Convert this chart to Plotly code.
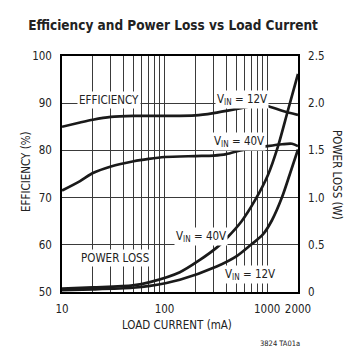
import plotly.graph_objects as go

# ---- data ----
eff12_current = [10, 15, 20, 30, 50, 100, 200, 300, 540, 800, 1000, 1400, 2000]
eff12_values = [85.0, 85.9, 86.5, 87.1, 87.3, 87.3, 87.4, 87.9, 88.9, 89.6, 89.4, 88.4, 87.5]

eff40_current = [10, 15, 20, 30, 50, 70, 100, 200, 300, 400, 550, 700, 1000, 1400, 1750, 2000]
eff40_values = [71.5, 73.5, 75.2, 76.6, 77.7, 78.2, 78.6, 78.8, 78.9, 79.2, 80.0, 80.4, 80.9, 81.3, 81.4, 80.9]

pl40_current = [10, 20, 49, 72, 141, 221, 322, 403, 564, 760, 1019, 1274, 1592, 2000]
pl40_values = [0.035, 0.048, 0.07, 0.105, 0.21, 0.34, 0.47, 0.57, 0.75, 0.97, 1.24, 1.54, 1.92, 2.31]

pl12_current = [10, 20, 49, 72, 141, 322, 505, 695, 910, 1115, 1393, 1667, 2000]
pl12_values = [0.02, 0.028, 0.045, 0.065, 0.13, 0.27, 0.38, 0.50, 0.61, 0.76, 1.0, 1.25, 1.51]

x_tickvals = [10, 100, 1000, 2000]
x_ticktext = ["10", "100", "1000", "2000"]
x_minor_vals = [20, 30, 40, 50, 60, 70, 80, 90, 200, 300, 400, 500, 600, 700, 800, 900]
eff_ticks = [50, 60, 70, 80, 90, 100]
pl_tickvals = [0, 0.5, 1.0, 1.5, 2.0, 2.5]
pl_ticktext = ["0", "0.5", "1.0", "1.5", "2.0", "2.5"]

FONT = "DejaVu Sans Condensed, Roboto, Liberation Sans, sans-serif"
TXT = "#222222"
GRID = "#3a3a3a"

fig = go.Figure()
line = dict(color="#1a1a1a", width=2.7, shape="spline", smoothing=0.8)
fig.add_trace(go.Scatter(x=eff12_current, y=eff12_values, mode="lines", line=line, yaxis="y"))
fig.add_trace(go.Scatter(x=eff40_current, y=eff40_values, mode="lines", line=line, yaxis="y"))
fig.add_trace(go.Scatter(x=pl40_current, y=pl40_values, mode="lines", line=line, yaxis="y2"))
fig.add_trace(go.Scatter(x=pl12_current, y=pl12_values, mode="lines", line=line, yaxis="y2"))

def px(xp):
    return (xp - 62) / 236.0

def py(yp):
    return (292 - yp) / 236.0

ann = []
def label(text, cx, cy, size=11.5, bg=True, angle=0):
    ann.append(dict(text=text, x=px(cx), y=py(cy), xref="paper", yref="paper",
                    showarrow=False, xanchor="center", yanchor="middle",
                    font=dict(family=FONT, size=size, color=TXT),
                    bgcolor="white" if bg else None, borderpad=1, textangle=angle))

label("EFFICIENCY", 109, 100)
label("V<sub>IN</sub> = 12V", 242, 99)
label("V<sub>IN</sub> = 40V", 238.5, 141)
label("POWER LOSS", 114.5, 258)
label("V<sub>IN</sub> = 40V", 201, 236)
label("V<sub>IN</sub> = 12V", 250, 274)
label("3824 TA01a", 280, 343, size=7.5, bg=False)
label("LOAD CURRENT (mA)", 177, 325, size=11.5, bg=False)
label("EFFICIENCY (%)", 26, 172, size=11.5, bg=False, angle=-90)
label("POWER LOSS (W)", 337, 175, size=11.5, bg=False, angle=90)

fig.update_layout(
    width=360, height=356,
    margin=dict(l=62, r=62, t=56, b=64),
    paper_bgcolor="white", plot_bgcolor="white",
    showlegend=False,
    title=dict(text="<b>Efficiency and Power Loss vs Load Current</b>",
               x=173 / 360, xanchor="center", y=1 - 25 / 356, yanchor="middle",
               font=dict(family=FONT, size=13.5, color=TXT)),
    xaxis=dict(type="log", range=[1, 3.30103], tickvals=x_tickvals, ticktext=x_ticktext,
               showgrid=True, gridcolor=GRID, gridwidth=1,
               minor=dict(tickvals=x_minor_vals, showgrid=True, gridcolor=GRID, gridwidth=1, ticks=""),
               showline=True, linecolor="black", linewidth=1.5, mirror=True,
               ticks="outside", ticklen=5, tickcolor="rgba(0,0,0,0)",
               tickfont=dict(family=FONT, size=11.5, color=TXT), zeroline=False),
    yaxis=dict(range=[50, 100], tickvals=eff_ticks,
               showgrid=True, gridcolor=GRID, gridwidth=1,
               showline=True, linecolor="black", linewidth=1.5, mirror=True,
               ticks="outside", ticklen=6, tickcolor="rgba(0,0,0,0)",
               tickfont=dict(family=FONT, size=11.5, color=TXT), zeroline=False),
    yaxis2=dict(range=[0, 2.5], tickvals=pl_tickvals, ticktext=pl_ticktext,
                overlaying="y", side="right", showgrid=False,
                showline=True, linecolor="black", linewidth=1.5,
                ticks="outside", ticklen=6, tickcolor="rgba(0,0,0,0)",
                tickfont=dict(family=FONT, size=11.5, color=TXT), zeroline=False),
    annotations=ann,
)

fig.write_html("out.html", config={"displayModeBar": False},
               post_script="document.body.style.margin='0';document.body.style.overflow='hidden';")
